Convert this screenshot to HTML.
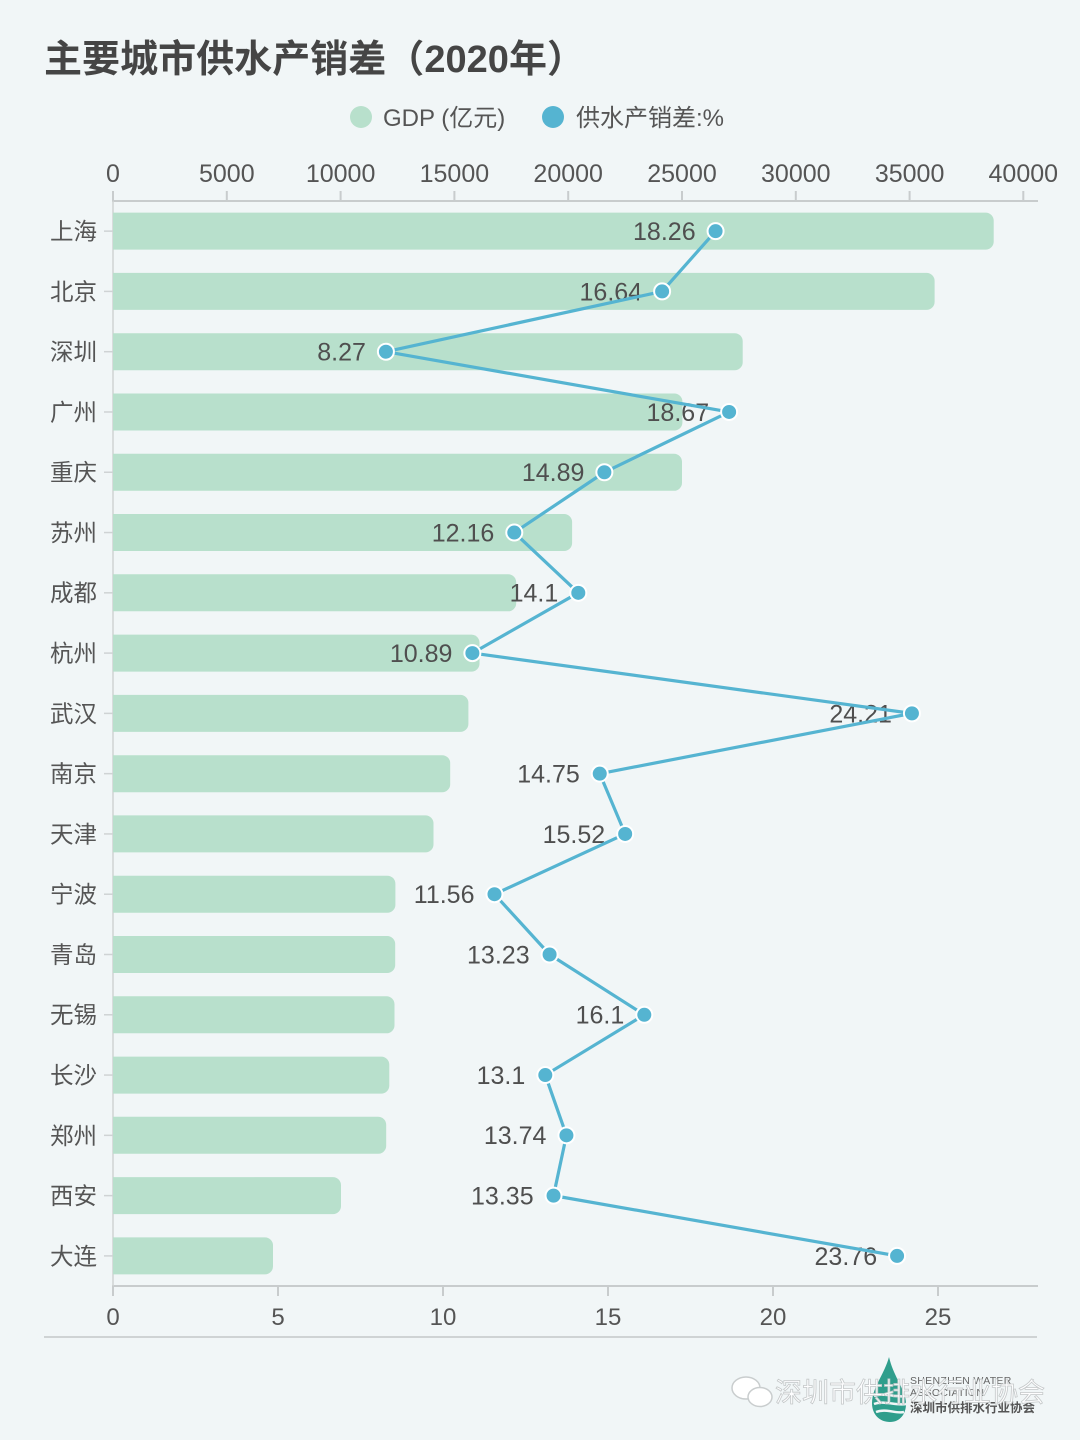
<!DOCTYPE html>
<html>
<head>
<meta charset="utf-8">
<style>
  html,body{margin:0;padding:0;background:#f1f6f7;}
  svg{display:block;}
  text{font-family:"Liberation Sans","Noto Sans CJK SC",sans-serif;}
</style>
</head>
<body>
<svg width="1080" height="1440" viewBox="0 0 1080 1440" xmlns="http://www.w3.org/2000/svg">
  <rect width="1080" height="1440" fill="#f1f6f7"/>

  <!-- Title -->
  <text x="44" y="72" font-size="38" font-weight="bold" fill="#454545" textLength="541" lengthAdjust="spacing">主要城市供水产销差（2020年）</text>

  <!-- Legend -->
  <circle cx="361" cy="117" r="11" fill="#b8e0cc"/>
  <text x="383" y="126" font-size="24" fill="#555">GDP (亿元)</text>
  <circle cx="553" cy="117" r="11" fill="#55b4d1"/>
  <text x="576" y="126" font-size="24" fill="#555">供水产销差:%</text>

  <!-- Top axis labels -->
  <g font-size="25" fill="#555" text-anchor="middle">
    <text x="113" y="182">0</text>
    <text x="226.8" y="182">5000</text>
    <text x="340.6" y="182">10000</text>
    <text x="454.4" y="182">15000</text>
    <text x="568.2" y="182">20000</text>
    <text x="682" y="182">25000</text>
    <text x="795.8" y="182">30000</text>
    <text x="909.6" y="182">35000</text>
    <text x="1023.3" y="182">40000</text>
  </g>
  <!-- Top axis line & ticks -->
  <g stroke="#c8cccd" stroke-width="2">
    <line x1="112" y1="201" x2="1038" y2="201"/>
    <line x1="113" y1="191" x2="113" y2="201"/>
    <line x1="226.8" y1="191" x2="226.8" y2="201"/>
    <line x1="340.6" y1="191" x2="340.6" y2="201"/>
    <line x1="454.4" y1="191" x2="454.4" y2="201"/>
    <line x1="568.2" y1="191" x2="568.2" y2="201"/>
    <line x1="682" y1="191" x2="682" y2="201"/>
    <line x1="795.8" y1="191" x2="795.8" y2="201"/>
    <line x1="909.6" y1="191" x2="909.6" y2="201"/>
    <line x1="1023.3" y1="191" x2="1023.3" y2="201"/>
  </g>

  <!-- Bottom axis line & ticks -->
  <g stroke="#c8cccd" stroke-width="2">
    <line x1="112" y1="1286" x2="1038" y2="1286"/>
    <line x1="113" y1="1286" x2="113" y2="1296"/>
    <line x1="278" y1="1286" x2="278" y2="1296"/>
    <line x1="443" y1="1286" x2="443" y2="1296"/>
    <line x1="608" y1="1286" x2="608" y2="1296"/>
    <line x1="773" y1="1286" x2="773" y2="1296"/>
    <line x1="938" y1="1286" x2="938" y2="1296"/>
  </g>
  <g font-size="24" fill="#555" text-anchor="middle">
    <text x="113" y="1325">0</text>
    <text x="278" y="1325">5</text>
    <text x="443" y="1325">10</text>
    <text x="608" y="1325">15</text>
    <text x="773" y="1325">20</text>
    <text x="938" y="1325">25</text>
  </g>
  <!-- separator -->
  <line x1="44" y1="1337" x2="1037" y2="1337" stroke="#cfd3d4" stroke-width="2"/>

  <!-- Left axis -->
  <g stroke="#cfd3d4" stroke-width="1.5">
    <line x1="113" y1="201" x2="113" y2="1286"/>
    <line x1="104" y1="231.14" x2="113" y2="231.14"/>
    <line x1="104" y1="291.42" x2="113" y2="291.42"/>
    <line x1="104" y1="351.70" x2="113" y2="351.70"/>
    <line x1="104" y1="411.98" x2="113" y2="411.98"/>
    <line x1="104" y1="472.26" x2="113" y2="472.26"/>
    <line x1="104" y1="532.54" x2="113" y2="532.54"/>
    <line x1="104" y1="592.82" x2="113" y2="592.82"/>
    <line x1="104" y1="653.10" x2="113" y2="653.10"/>
    <line x1="104" y1="713.38" x2="113" y2="713.38"/>
    <line x1="104" y1="773.66" x2="113" y2="773.66"/>
    <line x1="104" y1="833.94" x2="113" y2="833.94"/>
    <line x1="104" y1="894.22" x2="113" y2="894.22"/>
    <line x1="104" y1="954.50" x2="113" y2="954.50"/>
    <line x1="104" y1="1014.78" x2="113" y2="1014.78"/>
    <line x1="104" y1="1075.06" x2="113" y2="1075.06"/>
    <line x1="104" y1="1135.34" x2="113" y2="1135.34"/>
    <line x1="104" y1="1195.62" x2="113" y2="1195.62"/>
    <line x1="104" y1="1255.90" x2="113" y2="1255.90"/>
  </g>
  <g font-size="23.5" fill="#555" text-anchor="end">
    <text x="97" y="239.5">上海</text>
    <text x="97" y="299.8">北京</text>
    <text x="97" y="360.1">深圳</text>
    <text x="97" y="420.4">广州</text>
    <text x="97" y="480.7">重庆</text>
    <text x="97" y="541.0">苏州</text>
    <text x="97" y="601.2">成都</text>
    <text x="97" y="661.5">杭州</text>
    <text x="97" y="721.8">武汉</text>
    <text x="97" y="782.1">南京</text>
    <text x="97" y="842.4">天津</text>
    <text x="97" y="902.6">宁波</text>
    <text x="97" y="962.9">青岛</text>
    <text x="97" y="1023.2">无锡</text>
    <text x="97" y="1083.5">长沙</text>
    <text x="97" y="1143.8">郑州</text>
    <text x="97" y="1204.0">西安</text>
    <text x="97" y="1264.3">大连</text>
  </g>

  <!-- Bars -->
  <g fill="#b8e0cc">
    <path d="M113 212.6 H985.7 a8 8 0 0 1 8 8 V241.6 a8 8 0 0 1 -8 8 H113 Z"/>
    <path d="M113 272.9 H926.6 a8 8 0 0 1 8 8 V301.9 a8 8 0 0 1 -8 8 H113 Z"/>
    <path d="M113 333.2 H734.7 a8 8 0 0 1 8 8 V362.2 a8 8 0 0 1 -8 8 H113 Z"/>
    <path d="M113 393.5 H674.4 a8 8 0 0 1 8 8 V422.5 a8 8 0 0 1 -8 8 H113 Z"/>
    <path d="M113 453.8 H674.0 a8 8 0 0 1 8 8 V482.8 a8 8 0 0 1 -8 8 H113 Z"/>
    <path d="M113 514.0 H564.1 a8 8 0 0 1 8 8 V543.0 a8 8 0 0 1 -8 8 H113 Z"/>
    <path d="M113 574.3 H508.2 a8 8 0 0 1 8 8 V603.3 a8 8 0 0 1 -8 8 H113 Z"/>
    <path d="M113 634.6 H471.5 a8 8 0 0 1 8 8 V663.6 a8 8 0 0 1 -8 8 H113 Z"/>
    <path d="M113 694.9 H460.4 a8 8 0 0 1 8 8 V723.9 a8 8 0 0 1 -8 8 H113 Z"/>
    <path d="M113 755.2 H442.2 a8 8 0 0 1 8 8 V784.2 a8 8 0 0 1 -8 8 H113 Z"/>
    <path d="M113 815.4 H425.5 a8 8 0 0 1 8 8 V844.4 a8 8 0 0 1 -8 8 H113 Z"/>
    <path d="M113 875.7 H387.4 a8 8 0 0 1 8 8 V904.7 a8 8 0 0 1 -8 8 H113 Z"/>
    <path d="M113 936.0 H387.2 a8 8 0 0 1 8 8 V965.0 a8 8 0 0 1 -8 8 H113 Z"/>
    <path d="M113 996.3 H386.5 a8 8 0 0 1 8 8 V1025.3 a8 8 0 0 1 -8 8 H113 Z"/>
    <path d="M113 1056.6 H381.3 a8 8 0 0 1 8 8 V1085.6 a8 8 0 0 1 -8 8 H113 Z"/>
    <path d="M113 1116.8 H378.2 a8 8 0 0 1 8 8 V1145.8 a8 8 0 0 1 -8 8 H113 Z"/>
    <path d="M113 1177.1 H333.0 a8 8 0 0 1 8 8 V1206.1 a8 8 0 0 1 -8 8 H113 Z"/>
    <path d="M113 1237.4 H265.0 a8 8 0 0 1 8 8 V1266.4 a8 8 0 0 1 -8 8 H113 Z"/>
  </g>

  <!-- Value labels -->
  <g font-size="25" fill="#4f4f4f" text-anchor="end">
    <text x="695.6" y="240">18.26</text>
    <text x="642.1" y="300.3">16.64</text>
    <text x="365.9" y="360.6">8.27</text>
    <text x="709.1" y="420.9">18.67</text>
    <text x="584.4" y="481.2">14.89</text>
    <text x="494.3" y="541.4">12.16</text>
    <text x="558.3" y="601.7">14.1</text>
    <text x="452.4" y="662">10.89</text>
    <text x="891.9" y="722.3">24.21</text>
    <text x="579.8" y="782.6">14.75</text>
    <text x="605.2" y="842.8">15.52</text>
    <text x="474.5" y="903.1">11.56</text>
    <text x="529.6" y="963.4">13.23</text>
    <text x="624.3" y="1023.7">16.1</text>
    <text x="525.3" y="1084">13.1</text>
    <text x="546.4" y="1144.2">13.74</text>
    <text x="533.6" y="1204.5">13.35</text>
    <text x="877.1" y="1264.8">23.76</text>
  </g>

  <!-- Line -->
  <polyline fill="none" stroke="#55b4d1" stroke-width="3.2" stroke-linejoin="round"
    points="715.58,231.14 662.12,291.42 385.91,351.70 729.11,411.98 604.37,472.26 514.28,532.54 578.3,592.82 472.37,653.10 911.93,713.38 599.75,773.66 625.16,833.94 494.48,894.22 549.59,954.50 644.3,1014.78 545.3,1075.06 566.42,1135.34 553.55,1195.62 897.08,1255.90"/>
  <g fill="#55b4d1" stroke="#ffffff" stroke-width="2">
    <circle cx="715.58" cy="231.14" r="8"/>
    <circle cx="662.12" cy="291.42" r="8"/>
    <circle cx="385.91" cy="351.70" r="8"/>
    <circle cx="729.11" cy="411.98" r="8"/>
    <circle cx="604.37" cy="472.26" r="8"/>
    <circle cx="514.28" cy="532.54" r="8"/>
    <circle cx="578.3" cy="592.82" r="8"/>
    <circle cx="472.37" cy="653.10" r="8"/>
    <circle cx="911.93" cy="713.38" r="8"/>
    <circle cx="599.75" cy="773.66" r="8"/>
    <circle cx="625.16" cy="833.94" r="8"/>
    <circle cx="494.48" cy="894.22" r="8"/>
    <circle cx="549.59" cy="954.50" r="8"/>
    <circle cx="644.3" cy="1014.78" r="8"/>
    <circle cx="545.3" cy="1075.06" r="8"/>
    <circle cx="566.42" cy="1135.34" r="8"/>
    <circle cx="553.55" cy="1195.62" r="8"/>
    <circle cx="897.08" cy="1255.90" r="8"/>
  </g>

  <!-- Watermark / logo -->
  <g>
    <path d="M889 1357 C884 1375 872 1388 872 1403 C872 1415 880 1422 890 1422 C900 1422 906 1414 906 1404 C906 1390 894 1378 889 1357 Z" fill="#2f9e8c"/>
    <path d="M874 1396 C884 1392 896 1398 906 1396 M874 1404 C884 1400 896 1406 906 1404 M876 1412 C886 1408 896 1414 904 1412" stroke="#f1f6f7" stroke-width="2.5" fill="none"/>
    <text x="910" y="1384" font-size="10.5" fill="#666" letter-spacing="0.3">SHENZHEN WATER</text>
    <text x="910" y="1396" font-size="10.5" fill="#666" letter-spacing="0.3">ASSOCIATION</text>
    <text x="910" y="1412" font-size="12.5" font-weight="bold" fill="#555">深圳市供排水行业协会</text>
    <g fill="#ffffff" stroke="#c9cdce" stroke-width="1.5">
      <ellipse cx="746" cy="1388" rx="14" ry="11"/>
      <ellipse cx="760" cy="1397" rx="12" ry="9.5"/>
    </g>
    <text x="775" y="1402" font-size="27" fill="#ffffff" stroke="#c4c8c9" stroke-width="0.8" fill-opacity="0.9">深圳市供排水行业协会</text>
  </g>
</svg>
</body>
</html>
